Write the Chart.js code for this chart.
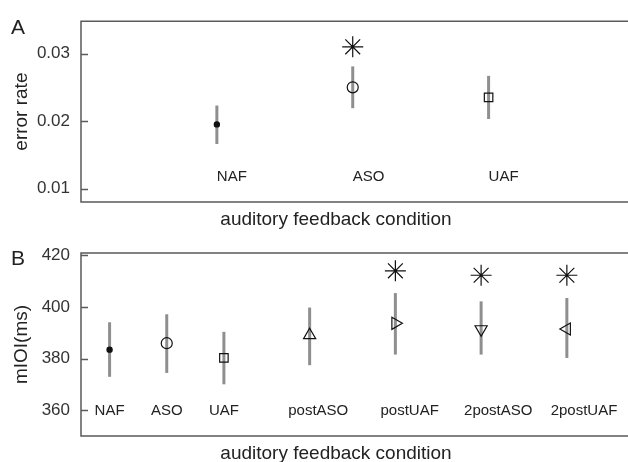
<!DOCTYPE html>
<html>
<head>
<meta charset="utf-8">
<title>auditory feedback condition</title>
<script src="https://cdn.jsdelivr.net/npm/chart.js@4"></script>
<style>
  html, body { margin: 0; padding: 0; overflow: hidden; background: #fff; }
  .panel { width: 628px; height: 231px; }
</style>
</head>
<body>
<div class="panel"><canvas id="chartA" width="628" height="231"></canvas></div>
<div class="panel"><canvas id="chartB" width="628" height="231"></canvas></div>
<script>
// panel A - error rate
const condA = ['NAF', 'ASO', 'UAF'];
const xA = [1, 2, 3];
const meanA = [0.0195, 0.0250, 0.0235];
const lowA = [0.0166, 0.0219, 0.0203];
const highA = [0.0223, 0.0281, 0.0267];
const starA = [null, 0.0310, null];
const ticksA = [0.01, 0.02, 0.03];

// panel B - mIOI (ms)
const condB = ['NAF', 'ASO', 'UAF', 'postASO', 'postUAF', '2postASO', '2postUAF'];
const xB = [1, 3, 5, 8, 11, 14, 17];
const meanB = [383.5, 386.0, 380.3, 389.1, 393.7, 391.4, 391.5];
const lowB = [373.0, 374.5, 370.1, 377.5, 381.6, 381.6, 380.3];
const highB = [394.1, 397.2, 390.4, 399.8, 405.4, 402.2, 403.5];
const starB = [null, null, null, null, 414.0, 412.3, 412.3];
const ticksB = [360, 380, 400, 420];

const FONT = '"Liberation Sans", Arial, Helvetica, sans-serif';
Chart.defaults.font.family = FONT;

// marker looks (R pch style)
const markA = { style: ['circle', 'circle', 'rect'], size: [2.6, 5.5, 6], rot: [0, 0, 0] };
const markB = {
    style: ['circle', 'circle', 'rect', 'triangle', 'triangle', 'triangle', 'triangle'],
    size: [2.6, 5.5, 6, 7, 7, 7, 7],
    rot: [0, 0, 0, 0, 90, 180, 270]
};

const panelPlugin = {
    id: 'panel',
    beforeDatasetsDraw(chart, args, opts) {
        const { ctx, scales: { x, y } } = chart;
        ctx.save();
        ctx.strokeStyle = '#8f8f8f';
        ctx.lineWidth = 3;
        opts.low.forEach((lo, i) => {
            const px = x.getPixelForValue(opts.xs[i]);
            ctx.beginPath();
            ctx.moveTo(px, y.getPixelForValue(lo));
            ctx.lineTo(px, y.getPixelForValue(opts.high[i]));
            ctx.stroke();
        });
        ctx.restore();
    },
    afterDraw(chart, args, opts) {
        const { ctx, chartArea: a, scales: { x, y } } = chart;
        ctx.save();
        // box (right side is cut off in the figure) + inward ticks
        ctx.strokeStyle = '#5a5a5a';
        ctx.lineWidth = 1.5;
        ctx.beginPath();
        ctx.moveTo(chart.width, a.top);
        ctx.lineTo(a.left, a.top);
        ctx.lineTo(a.left, a.bottom);
        ctx.lineTo(chart.width, a.bottom);
        ctx.stroke();
        y.ticks.forEach(t => {
            const py = Math.round(y.getPixelForValue(t.value)) + 0.5;
            ctx.beginPath();
            ctx.moveTo(a.left, py);
            ctx.lineTo(a.left + 7, py);
            ctx.stroke();
        });
        // condition names inside the plot
        ctx.fillStyle = '#222';
        ctx.font = '15px ' + FONT;
        ctx.textBaseline = 'middle';
        ctx.textAlign = opts.labelAlign;
        opts.labels.forEach((txt, i) => {
            ctx.fillText(txt, x.getPixelForValue(opts.labelX[i]), y.getPixelForValue(opts.labelY));
        });
        // panel letter
        ctx.textAlign = 'left';
        ctx.textBaseline = 'alphabetic';
        ctx.font = '21px ' + FONT;
        ctx.fillText(opts.letter, 11, 34);
        // x axis title
        ctx.textAlign = 'center';
        ctx.textBaseline = 'middle';
        ctx.font = '19px ' + FONT;
        ctx.fillText('auditory feedback condition', 336, a.bottom + 18);
        ctx.restore();
    }
};

function makePanel(id, cfg) {
    const points = cfg.mean.map((v, i) => ({ x: cfg.xs[i], y: v }));
    const stars = [];
    cfg.star.forEach((v, i) => { if (v !== null) stars.push({ x: cfg.xs[i], y: v }); });

    return new Chart(document.getElementById(id), {
        type: 'scatter',
        data: {
            datasets: [{
                data: points,
                pointStyle: cfg.mark.style,
                pointRadius: cfg.mark.size,
                pointRotation: cfg.mark.rot,
                borderColor: '#111',
                backgroundColor: cfg.mark.style.map((s, i) => i === 0 ? '#111' : 'rgba(0,0,0,0)'),
                pointBorderWidth: 1.2
            }, {
                data: stars,
                pointStyle: 'star',
                pointRadius: 10.5,
                borderColor: '#111',
                backgroundColor: '#111',
                pointBorderWidth: 1.2
            }]
        },
        options: {
            responsive: false,
            animation: false,
            devicePixelRatio: 1,
            layout: { padding: { left: 10, right: 0, top: cfg.padTop, bottom: cfg.padBottom } },
            plugins: {
                legend: { display: false },
                tooltip: { enabled: false },
                panel: {
                    xs: cfg.xs, low: cfg.low, high: cfg.high,
                    labels: cfg.labels, labelX: cfg.labelX, labelY: cfg.labelY, labelAlign: cfg.labelAlign,
                    letter: cfg.letter
                }
            },
            scales: {
                x: { type: 'linear', min: 0, max: cfg.xMax, display: false },
                y: {
                    min: cfg.yMin, max: cfg.yMax,
                    grid: { display: false, drawTicks: false },
                    border: { display: false },
                    afterBuildTicks: s => { s.ticks = cfg.ticks.map(v => ({ value: v })); },
                    afterFit: s => { s.width = 71; },
                    ticks: { color: '#333', padding: 11, font: { size: 17 } },
                    title: { display: true, text: cfg.yTitle, color: '#222', padding: 0, font: { size: 19 } }
                }
            }
        },
        plugins: [panelPlugin]
    });
}

makePanel('chartA', {
    xs: xA, mean: meanA, low: lowA, high: highA, star: starA, ticks: ticksA, mark: markA,
    labels: condA, labelX: xA, labelY: 0.0118, labelAlign: 'left',
    yMin: 0.008, yMax: 0.0348, xMax: 3.94, yTitle: 'error rate', letter: 'A',
    padTop: 21, padBottom: 29
});

makePanel('chartB', {
    xs: xB, mean: meanB, low: lowB, high: highB, star: starB, ticks: ticksB, mark: markB,
    labels: condB, labelX: [1, 3, 5, 8.3, 11.5, 14.6, 17.6], labelY: 360, labelAlign: 'center',
    yMin: 350.1, yMax: 420.9, xMax: 18.73, yTitle: 'mIOI(ms)', letter: 'B',
    padTop: 22, padBottom: 26
});
</script>
</body>
</html>
